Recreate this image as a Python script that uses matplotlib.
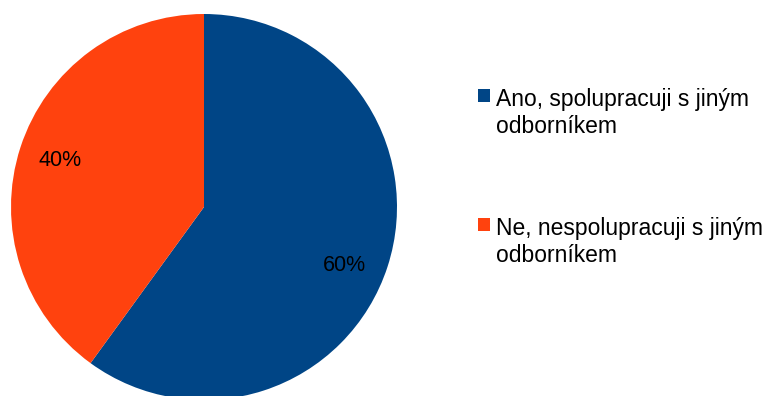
import matplotlib
matplotlib.use("Agg")
import matplotlib.pyplot as plt
from matplotlib.legend_handler import HandlerPatch
from matplotlib.patches import Rectangle, Wedge

labels = ["Ano, spolupracuji s jiným\nodborníkem", "Ne, nespolupracuji s jiným\nodborníkem"]
values = [60, 40]
colors = ["#004586", "#FF420E"]

plt.rcParams['font.family'] = ['Liberation Sans', 'DejaVu Sans']

W, H = 783, 396
fig = plt.figure(figsize=(W / 100, H / 100), dpi=100)

# pie area: centre (204, 207) px, radius ~193 px
cx, cy, r = 204, 207, 193
ax = fig.add_axes([(cx - r) / W, (H - cy - r) / H, 2 * r / W, 2 * r / H])
wedges, texts, autotexts = ax.pie(
    values, colors=colors, startangle=90, counterclock=False,
    autopct=lambda p: f"{p:.0f}%", pctdistance=0.785, radius=1,
    wedgeprops=dict(linewidth=0),
    textprops=dict(fontsize=15.5, color="black"))
# nudge the larger slice's label slightly lower
x0, y0 = autotexts[0].get_position()
autotexts[0].set_position((x0 - 0.02, y0 - 0.06))
ax.set_xlim(-1, 1)
ax.set_ylim(-1, 1)
ax.set_aspect("equal")
ax.axis("off")


def top_square(legend, orig_handle, xdescent, ydescent, width, height, fontsize):
    # square marker aligned with the first line of a two-line label
    lift = 0.79 * fontsize
    return Rectangle((-xdescent, -ydescent + lift), width, height)


leg = fig.legend(wedges, labels, loc="upper left",
                 bbox_to_anchor=(478 / W, 1 - 88 / H),
                 frameon=False, fontsize=16.5,
                 handlelength=0.52, handleheight=0.52, handletextpad=0.27,
                 labelspacing=3.45, borderaxespad=0, borderpad=0,
                 handler_map={Wedge: HandlerPatch(patch_func=top_square)})
for t in leg.get_texts():
    t.set_linespacing(1.22)

fig.savefig("out.png", dpi=100)
